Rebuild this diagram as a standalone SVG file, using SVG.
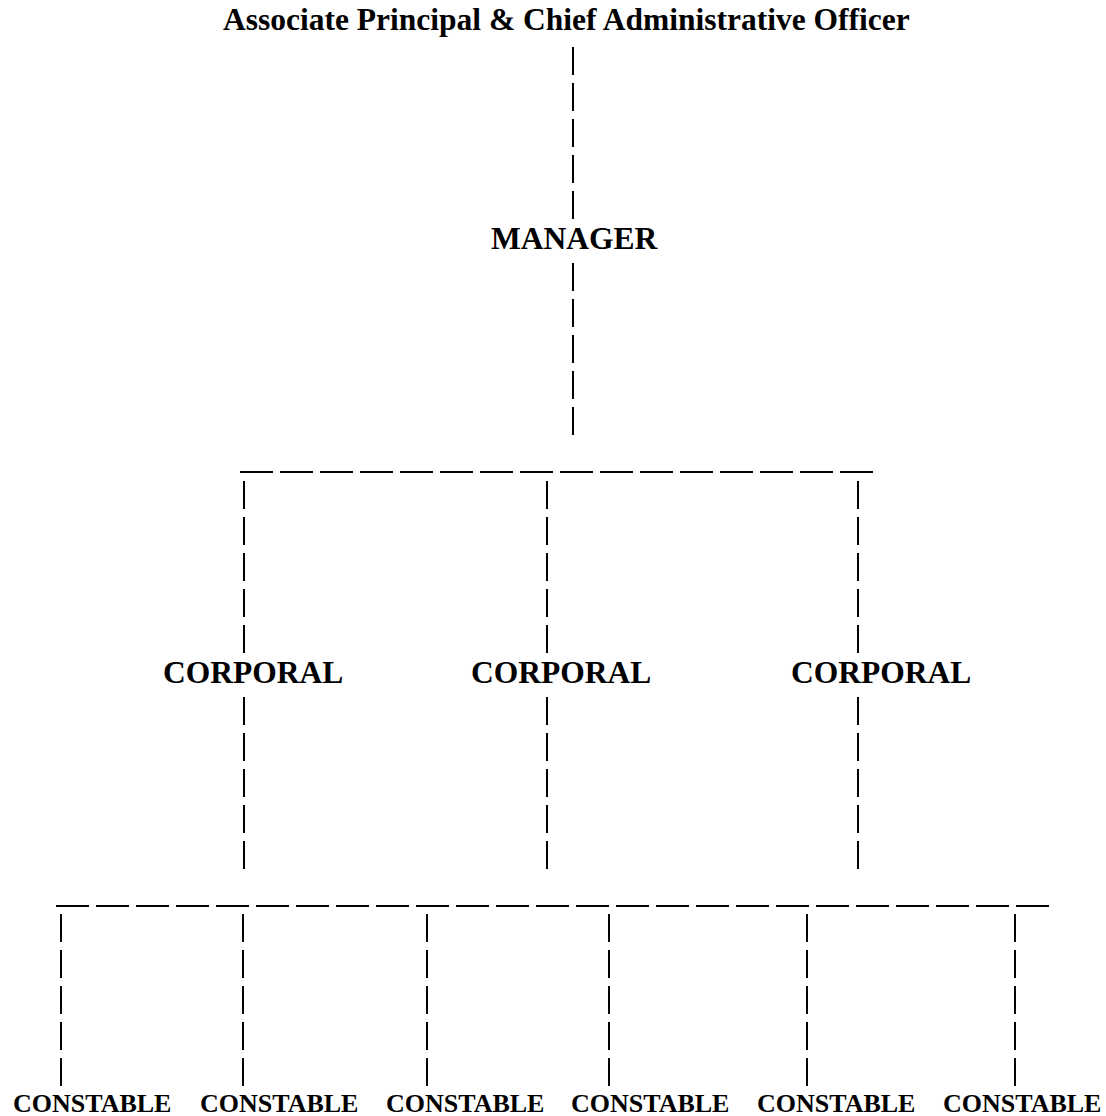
<svg xmlns="http://www.w3.org/2000/svg" width="1106" height="1116" viewBox="0 0 1106 1116">
<style>
.t{font-family:"Liberation Serif","Times New Roman",serif;font-weight:bold;fill:#000}
.big{font-size:31.5px}
.small{font-size:26px}
.v{stroke:#000;stroke-width:2;stroke-dasharray:28 8;fill:none}
.h{stroke:#000;stroke-width:2;stroke-dasharray:33 7;fill:none}
</style>
<rect width="1106" height="1116" fill="#fff"/>
<g id="connectors">
<line class="v" x1="573" y1="47" x2="573" y2="219"/>
<line class="v" x1="573" y1="263" x2="573" y2="436"/>
<line class="h" x1="240" y1="472" x2="873" y2="472"/>
<line class="v" x1="244" y1="481" x2="244" y2="653"/>
<line class="v" x1="547" y1="481" x2="547" y2="653"/>
<line class="v" x1="858" y1="481" x2="858" y2="653"/>
<line class="v" x1="244" y1="697" x2="244" y2="869"/>
<line class="v" x1="547" y1="697" x2="547" y2="869"/>
<line class="v" x1="858" y1="697" x2="858" y2="869"/>
<line class="h" x1="56" y1="906" x2="1049" y2="906"/>
<line class="v" x1="61" y1="914" x2="61" y2="1086"/>
<line class="v" x1="243" y1="914" x2="243" y2="1086"/>
<line class="v" x1="427" y1="914" x2="427" y2="1086"/>
<line class="v" x1="609" y1="914" x2="609" y2="1086"/>
<line class="v" x1="807" y1="914" x2="807" y2="1086"/>
<line class="v" x1="1015" y1="914" x2="1015" y2="1086"/>
</g>
<g id="officer"><text class="t big" x="223" y="30">Associate Principal &amp; Chief Administrative Officer</text></g>
<g id="manager"><text class="t big" x="491" y="249">MANAGER</text></g>
<g id="corporal1"><text class="t big" x="163" y="683">CORPORAL</text></g>
<g id="corporal2"><text class="t big" x="471" y="683">CORPORAL</text></g>
<g id="corporal3"><text class="t big" x="791" y="683">CORPORAL</text></g>
<g id="constable1"><text class="t small" x="13" y="1112">CONSTABLE</text></g>
<g id="constable2"><text class="t small" x="200" y="1112">CONSTABLE</text></g>
<g id="constable3"><text class="t small" x="386" y="1112">CONSTABLE</text></g>
<g id="constable4"><text class="t small" x="571" y="1112">CONSTABLE</text></g>
<g id="constable5"><text class="t small" x="757" y="1112">CONSTABLE</text></g>
<g id="constable6"><text class="t small" x="943" y="1112">CONSTABLE</text></g>
</svg>
